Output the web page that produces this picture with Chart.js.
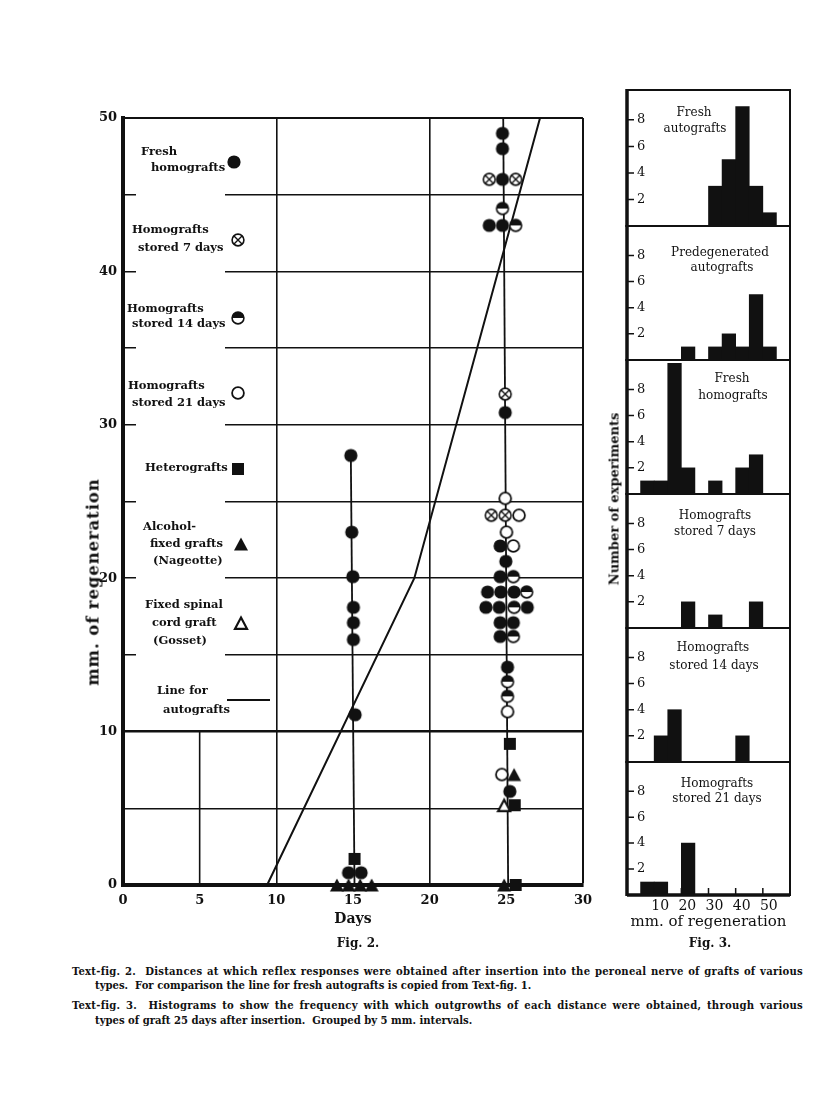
<!DOCTYPE html>
<html>
<head>
<meta charset="utf-8">
<script src="https://cdn.jsdelivr.net/npm/chart.js@4.4.1/dist/chart.umd.min.js"></script>
<style>
  body { margin: 0; background: #fff; }
  #page { position: relative; width: 816px; height: 1114px; overflow: hidden; background: #fff;
          font-family: "DejaVu Serif", serif; color: #111; }
  canvas { position: absolute; }
  .t { position: absolute; white-space: nowrap; line-height: 14px; }
  .key { font-weight: bold; font-size: 11.5px; }
  .ht { font-size: 12px; transform: translateX(-50%); }
  .fig { font-weight: bold; font-size: 12px; transform: translateX(-50%); }
  .cap { font-family: "DejaVu Serif Condensed", "DejaVu Serif", serif; font-stretch: condensed;
         font-weight: bold; font-size: 11.2px; }
  .just { width: 731px; text-align: justify; text-align-last: justify; letter-spacing: 0.25px; }
  .rot { position: absolute; white-space: nowrap; transform: translate(-50%, -50%) rotate(-90deg); font-weight: bold; }
</style>
</head>
<body>
<div id="page">
  <canvas id="fig2" width="600" height="960" style="left:0;top:0"></canvas>
  <canvas id="h0" width="180" height="144" style="left:620px;top:86px"></canvas>
  <canvas id="h1" width="180" height="142" style="left:620px;top:222px"></canvas>
  <canvas id="h2" width="180" height="142" style="left:620px;top:356px"></canvas>
  <canvas id="h3" width="180" height="142" style="left:620px;top:490px"></canvas>
  <canvas id="h4" width="180" height="142" style="left:620px;top:624px"></canvas>
  <canvas id="h5" width="180" height="179" style="left:620px;top:758px"></canvas>

  <div class="rot" style="left:93px;top:582px;font-size:16.5px;letter-spacing:0.9px">mm. of regeneration</div>
  <div class="rot" style="left:614px;top:499px;font-size:13px">Number of experiments</div>

  <!-- key for Fig. 2 -->
  <div class="t key" style="left:141px;top:144px">Fresh</div>
  <div class="t key" style="left:151px;top:160px">homografts</div>
  <div class="t key" style="left:132px;top:222px">Homografts</div>
  <div class="t key" style="left:138px;top:240px">stored 7 days</div>
  <div class="t key" style="left:127px;top:301px">Homografts</div>
  <div class="t key" style="left:132px;top:316px">stored 14 days</div>
  <div class="t key" style="left:128px;top:378px">Homografts</div>
  <div class="t key" style="left:132px;top:395px">stored 21 days</div>
  <div class="t key" style="left:145px;top:460px">Heterografts</div>
  <div class="t key" style="left:143px;top:519px">Alcohol-</div>
  <div class="t key" style="left:150px;top:536px">fixed grafts</div>
  <div class="t key" style="left:153px;top:553px">(Nageotte)</div>
  <div class="t key" style="left:145px;top:597px">Fixed spinal</div>
  <div class="t key" style="left:152px;top:615px">cord graft</div>
  <div class="t key" style="left:153px;top:633px">(Gosset)</div>
  <div class="t key" style="left:157px;top:683px">Line for</div>
  <div class="t key" style="left:163px;top:702px">autografts</div>

  <!-- panel titles for Fig. 3 -->
  <div class="t ht" style="left:694px;top:105px">Fresh</div>
  <div class="t ht" style="left:695px;top:121px">autografts</div>
  <div class="t ht" style="left:720px;top:245px">Predegenerated</div>
  <div class="t ht" style="left:722px;top:260px">autografts</div>
  <div class="t ht" style="left:732px;top:371px">Fresh</div>
  <div class="t ht" style="left:733px;top:388px">homografts</div>
  <div class="t ht" style="left:715px;top:508px">Homografts</div>
  <div class="t ht" style="left:715px;top:524px">stored 7 days</div>
  <div class="t ht" style="left:713px;top:640px">Homografts</div>
  <div class="t ht" style="left:714px;top:658px">stored 14 days</div>
  <div class="t ht" style="left:717px;top:776px">Homografts</div>
  <div class="t ht" style="left:717px;top:791px">stored 21 days</div>

  <div class="t fig" style="left:358px;top:936px">Fig. 2.</div>
  <div class="t fig" style="left:710px;top:936px">Fig. 3.</div>

  <div class="t cap just" style="left:72px;top:964px">Text-fig. 2.&nbsp; Distances at which reflex responses were obtained after insertion into the peroneal nerve of grafts of various</div>
  <div class="t cap" style="left:95px;top:978px">types.&nbsp; For comparison the line for fresh autografts is copied from Text-fig. 1.</div>
  <div class="t cap just" style="left:72px;top:998px">Text-fig. 3.&nbsp; Histograms to show the frequency with which outgrowths of each distance were obtained, through various</div>
  <div class="t cap" style="left:95px;top:1013px">types of graft 25 days after insertion.&nbsp; Grouped by 5 mm. intervals.</div>
</div>

<script>
// Fig. 2 -- days after insertion (x) and mm. of regeneration (y)
const freshHomoDays = [24.75, 24.75, 24.75, 23.89, 24.75, 24.93, 24.60, 24.97, 24.60, 23.78, 24.64, 25.51,
                       23.67, 24.54, 26.37, 24.60, 25.46, 24.60, 25.08, 25.23,
                       14.86, 14.92, 14.99, 15.03, 15.03, 15.03, 15.14, 14.71, 15.53];
const freshHomoMm   = [49, 48, 46, 43, 43, 30.8, 22.1, 21.1, 20.1, 19.1, 19.1, 19.1,
                       18.1, 18.1, 18.1, 17.1, 17.1, 16.2, 14.2, 6.1,
                       28, 23, 20.1, 18.1, 17.1, 16, 11.1, 0.8, 0.8];
const stored7Days   = [23.89, 25.61, 24.93, 24.02, 24.93];
const stored7Mm     = [46, 46, 32, 24.1, 24.1];
const stored14Days  = [24.75, 25.61, 25.46, 26.33, 25.51, 25.46, 25.08, 25.08];
const stored14Mm    = [44.1, 43, 20.1, 19.1, 18.1, 16.2, 13.25, 12.3];
const stored21Days  = [24.93, 25.83, 25.01, 25.46, 25.08, 24.71];
const stored21Mm    = [25.2, 24.1, 23, 22.1, 11.3, 7.2];
const heteroDays    = [25.23, 25.55, 25.61, 15.10];
const heteroMm      = [9.2, 5.2, 0, 1.7];
const alcoholDays   = [25.51, 24.86, 13.95, 14.71, 15.47, 16.22];
const alcoholMm     = [7.2, 0, 0, 0, 0, 0];
const gossetDays    = [24.86];
const gossetMm      = [5.2];

// line for fresh autografts (copied from Text-fig. 1) and the two sampling days
const autoLineDays = [9.4, 19.0, 27.2];
const autoLineMm   = [0, 20, 50];
const day15Days = [14.86, 15.1];
const day15Mm   = [28, 0];
const day25Days = [24.8, 25.12];
const day25Mm   = [50, 0];

const dayTicks = [0, 5, 10, 15, 20, 25, 30];
const mmTicks  = [0, 10, 20, 30, 40, 50];

// Fig. 3 -- counts per 5 mm. bin (0-5 ... 55-60)
const binMid = [2.5, 7.5, 12.5, 17.5, 22.5, 27.5, 32.5, 37.5, 42.5, 47.5, 52.5, 57.5];
const histFreshAuto = [0, 0, 0, 0, 0, 0, 3, 5, 9, 3, 1, 0];
const histPredegen  = [0, 0, 0, 0, 1, 0, 1, 2, 1, 5, 1, 0];
const histFreshHomo = [0, 1, 1, 10, 2, 0, 1, 0, 2, 3, 0, 0];
const histStored7   = [0, 0, 0, 0, 2, 0, 1, 0, 0, 2, 0, 0];
const histStored14  = [0, 0, 2, 4, 0, 0, 0, 0, 2, 0, 0, 0];
const histStored21  = [0, 1, 1, 0, 4, 0, 0, 0, 0, 0, 0, 0];
const histXTicks = [10, 20, 30, 40, 50];
const histYTicks = [2, 4, 6, 8];

const INK = '#111';
const pts = (xs, ys) => xs.map((x, i) => ({ x: x, y: ys[i] }));

// little printed symbols used as point styles
function symbol(kind) {
  const c = document.createElement('canvas');
  c.width = 16; c.height = 16;
  const g = c.getContext('2d');
  g.fillStyle = INK; g.strokeStyle = INK;
  if (kind === 'dot') {
    g.beginPath(); g.arc(8, 8, 6.6, 0, Math.PI * 2); g.fill();
  } else if (kind === 'cross' || kind === 'half' || kind === 'ring') {
    g.beginPath(); g.arc(8, 8, 5.9, 0, Math.PI * 2);
    g.fillStyle = '#fff'; g.fill();
    g.fillStyle = INK;
    if (kind === 'half') {
      g.beginPath(); g.arc(8, 8, 5.9, Math.PI, 0); g.closePath(); g.fill();
    }
    if (kind === 'cross') {
      g.lineWidth = 1.4;
      g.beginPath();
      g.moveTo(4, 4); g.lineTo(12, 12);
      g.moveTo(12, 4); g.lineTo(4, 12);
      g.stroke();
    }
    g.lineWidth = kind === 'ring' ? 1.8 : 1.6;
    g.beginPath(); g.arc(8, 8, 5.9, 0, Math.PI * 2); g.stroke();
  } else if (kind === 'square') {
    g.fillRect(2, 2, 12, 12);
  } else if (kind === 'tri') {
    g.beginPath(); g.moveTo(8, 1.5); g.lineTo(15, 14.5); g.lineTo(1, 14.5); g.closePath(); g.fill();
  } else if (kind === 'triOpen') {
    g.beginPath(); g.moveTo(8, 2.5); g.lineTo(14, 13.8); g.lineTo(2, 13.8); g.closePath();
    g.fillStyle = '#fff'; g.fill();
    g.lineWidth = 2.2; g.lineJoin = 'miter'; g.stroke();
  }
  return c;
}
const sym = {
  dot: symbol('dot'), cross: symbol('cross'), half: symbol('half'), ring: symbol('ring'),
  square: symbol('square'), tri: symbol('tri'), triOpen: symbol('triOpen')
};

// white gaps in the rules behind the key, the short rule at 5 days, key symbols
const fig2Extras = {
  id: 'fig2Extras',
  beforeDatasetsDraw(chart) {
    const { ctx, scales: { x, y } } = chart;
    ctx.save();
    const top = y.getPixelForValue(45) - 3;
    const bot = y.getPixelForValue(15) + 3;
    ctx.fillStyle = '#fff';
    ctx.fillRect(136, top, 89, bot - top);
    ctx.strokeStyle = INK;
    ctx.lineWidth = 1.6;
    ctx.beginPath();
    ctx.moveTo(x.getPixelForValue(5), y.getPixelForValue(0));
    ctx.lineTo(x.getPixelForValue(5), y.getPixelForValue(10));
    ctx.stroke();
    ctx.restore();
  },
  afterDraw(chart) {
    const ctx = chart.ctx;
    const key = [[sym.dot, 234, 162], [sym.cross, 238, 240], [sym.half, 238, 318], [sym.ring, 238, 393],
                 [sym.square, 238, 469], [sym.tri, 241, 544], [sym.triOpen, 241, 623]];
    key.forEach(k => ctx.drawImage(k[0], k[1] - 8, k[2] - 8));
    ctx.save();
    ctx.strokeStyle = INK; ctx.lineWidth = 2;
    ctx.beginPath(); ctx.moveTo(227, 700); ctx.lineTo(270, 700); ctx.stroke();
    ctx.restore();
  }
};

const boldSerif = (size) => ({ family: 'DejaVu Serif', weight: 'bold', size: size });

function markSet(label, xs, ys, style) {
  return { label: label, data: pts(xs, ys), pointStyle: style, pointRadius: 7, showLine: false, order: 1, clip: false };
}
function ruleSet(label, xs, ys, w) {
  return { label: label, data: pts(xs, ys), showLine: true, borderColor: INK, borderWidth: w,
           pointRadius: 0, order: 3, clip: false };
}

new Chart(document.getElementById('fig2'), {
  type: 'scatter',
  data: {
    datasets: [
      ruleSet('Line for autografts', autoLineDays, autoLineMm, 2),
      ruleSet('15 days', day15Days, day15Mm, 1.8),
      ruleSet('25 days', day25Days, day25Mm, 1.8),
      markSet('Fresh homografts', freshHomoDays, freshHomoMm, sym.dot),
      markSet('Homografts stored 7 days', stored7Days, stored7Mm, sym.cross),
      markSet('Homografts stored 14 days', stored14Days, stored14Mm, sym.half),
      markSet('Homografts stored 21 days', stored21Days, stored21Mm, sym.ring),
      markSet('Heterografts', heteroDays, heteroMm, sym.square),
      markSet('Alcohol-fixed grafts (Nageotte)', alcoholDays, alcoholMm, sym.tri),
      markSet('Fixed spinal cord graft (Gosset)', gossetDays, gossetMm, sym.triOpen)
    ]
  },
  options: {
    responsive: false,
    maintainAspectRatio: false,
    animation: false,
    events: [],
    layout: { padding: { top: 118, right: 14, left: 0, bottom: 0 } },
    plugins: { legend: { display: false }, tooltip: { enabled: false } },
    scales: {
      x: {
        type: 'linear', min: 0, max: 30,
        afterFit(s) { s.height = 75; },
        ticks: {
          stepSize: 5, padding: 8, color: INK, font: boldSerif(13), maxRotation: 0, autoSkip: false,
          callback: v => dayTicks.includes(v) ? String(v) : ''
        },
        grid: {
          drawTicks: false,
          color: c => (c.tick && [10, 20, 30].includes(c.tick.value)) ? INK : 'rgba(0,0,0,0)',
          lineWidth: c => (c.tick && c.tick.value === 30) ? 2 : 1.6
        },
        border: { color: INK, width: 4 },
        title: { display: true, text: 'Days', color: INK, font: boldSerif(14), padding: { top: 0, bottom: 32 } }
      },
      y: {
        min: 0, max: 50,
        afterFit(s) { s.width = 123; },
        ticks: {
          stepSize: 5, padding: 6, color: INK, font: boldSerif(13), autoSkip: false,
          callback: v => mmTicks.includes(v) ? String(v) : ''
        },
        grid: {
          drawTicks: false, color: INK,
          lineWidth: c => (c.tick && c.tick.value === 10) ? 2.6 : (c.tick && c.tick.value === 50 ? 2 : 1.5)
        },
        border: { color: INK, width: 4 }
      }
    }
  },
  plugins: [fig2Extras]
});

// frame and inward ticks of each histogram panel
const histFrame = {
  id: 'histFrame',
  afterDatasetsDraw(chart) {
    const { ctx, chartArea: a, scales: { x, y } } = chart;
    ctx.save();
    ctx.strokeStyle = INK;
    ctx.lineWidth = 2;
    ctx.strokeRect(a.left, a.top, a.right - a.left, a.bottom - a.top);
    ctx.lineWidth = 3.5;
    ctx.beginPath(); ctx.moveTo(a.left, a.top - 1); ctx.lineTo(a.left, a.bottom + 1); ctx.stroke();
    ctx.lineWidth = 1.5;
    ctx.beginPath();
    histYTicks.forEach(v => {
      const py = y.getPixelForValue(v);
      ctx.moveTo(a.left, py); ctx.lineTo(a.left + 7, py);
    });
    if (x.options.display) {
      histXTicks.forEach(v => {
        const px = x.getPixelForValue(v);
        ctx.moveTo(px, a.bottom); ctx.lineTo(px, a.bottom - 7);
      });
    }
    ctx.stroke();
    if (x.options.display) {
      ctx.lineWidth = 3.5;
      ctx.beginPath(); ctx.moveTo(a.left, a.bottom); ctx.lineTo(a.right, a.bottom); ctx.stroke();
    }
    ctx.restore();
  }
};

function noPad(s) {
  s.paddingTop = 0; s.paddingBottom = 0; s.paddingLeft = 0; s.paddingRight = 0;
}

const histCounts = [histFreshAuto, histPredegen, histFreshHomo, histStored7, histStored14, histStored21];
histCounts.forEach((counts, i) => {
  const last = i === histCounts.length - 1;
  new Chart(document.getElementById('h' + i), {
    type: 'bar',
    data: {
      datasets: [{
        data: binMid.map((m, k) => ({ x: m, y: counts[k] })),
        backgroundColor: INK, borderWidth: 0, barPercentage: 1, categoryPercentage: 1
      }]
    },
    options: {
      responsive: false,
      maintainAspectRatio: false,
      animation: false,
      events: [],
      layout: { padding: { left: 7, right: 10, top: 4, bottom: last ? 0 : 4 } },
      plugins: { legend: { display: false }, tooltip: { enabled: false } },
      scales: {
        x: {
          type: 'linear', min: 0, max: 60, offset: false, display: last,
          afterFit(s) { s.height = last ? 42 : 0; noPad(s); },
          grid: { display: false, drawTicks: false, offset: false },
          border: { display: false },
          ticks: {
            stepSize: 10, padding: 3, labelOffset: 6, color: INK, maxRotation: 0, autoSkip: false,
            font: { family: 'DejaVu Serif', size: 14 },
            callback: v => histXTicks.includes(v) ? String(v) : ''
          },
          title: { display: true, text: 'mm. of regeneration', color: INK,
                   font: { family: 'DejaVu Serif', size: 15 }, padding: { top: 0, bottom: 6 } }
        },
        y: {
          min: 0, max: 10.25,
          afterFit(s) { s.width = 0; noPad(s); },
          grid: { display: false },
          border: { display: false },
          ticks: {
            mirror: true, padding: 10, stepSize: 2, color: INK, autoSkip: false,
            font: { family: 'DejaVu Serif', size: 13 },
            callback: v => histYTicks.includes(v) ? String(v) : ''
          }
        }
      }
    },
    plugins: [histFrame]
  });
});
</script>
</body>
</html>
